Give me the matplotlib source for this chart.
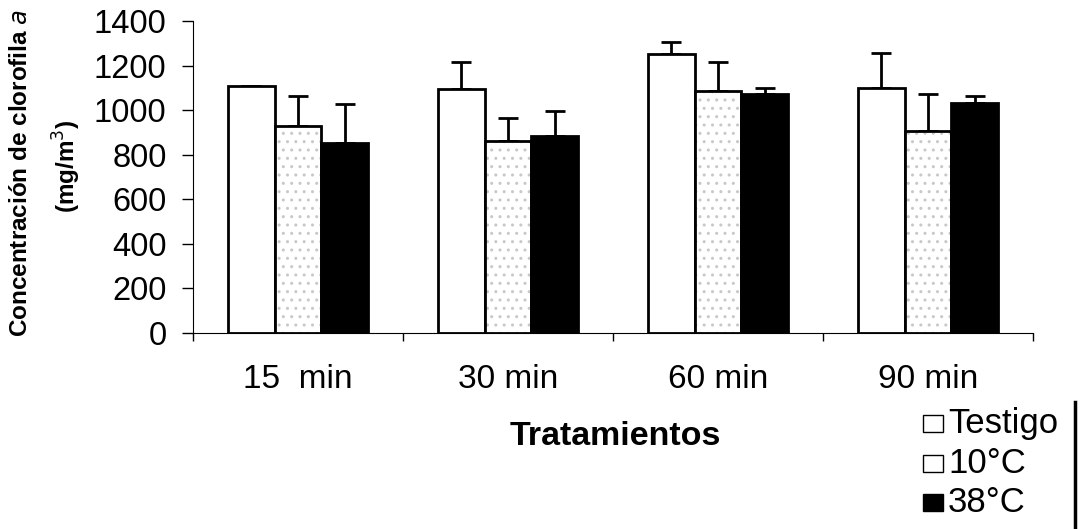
import numpy as np
import matplotlib
matplotlib.use("Agg")
import matplotlib.pyplot as plt
from matplotlib.lines import Line2D
from matplotlib.patches import Rectangle

plt.rcParams['font.family'] = ['Liberation Sans', 'DejaVu Sans']

tiempos = ["15  min", "30 min", "60 min", "90 min"]
series = ["Testigo", "10°C", "38°C"]
series_color = ["white", "white", "black"]
testigo = [1110, 1093, 1250, 1101]
testigo_err = [0, 121, 54, 157]
frio = [930, 863, 1087, 908]
frio_err = [135, 100, 127, 163]
calor = [854, 882, 1074, 1031]
calor_err = [172, 113, 27, 34]

W, H = 1082, 529
fig = plt.figure(figsize=(W / 100, H / 100), dpi=100)
ax = fig.add_axes([193 / W, 1 - 333 / H, 840 / W, 312 / H])

x = np.arange(len(tiempos))
w = 0.222
ekw = dict(elinewidth=2, capthick=2, ecolor="black", capsize=7, fmt="none", zorder=1)

# testigo (white)
ax.bar(x - w, testigo, w, color="white", edgecolor="black", linewidth=2, zorder=2)
ax.errorbar(x - w, testigo, yerr=[np.zeros(4), testigo_err], **ekw)

# 10 C (stippled)
ax.bar(x, frio, w, color="white", edgecolor="#c8c8c8", hatch="..", linewidth=0, zorder=2)
ax.bar(x, frio, w, color="none", edgecolor="black", linewidth=2, zorder=3)
ax.errorbar(x, frio, yerr=[np.zeros(4), frio_err], **ekw)

# 38 C (black)
ax.bar(x + w, calor, w, color="black", edgecolor="black", linewidth=2, zorder=2)
ax.errorbar(x + w, calor, yerr=[np.zeros(4), calor_err], **ekw)

ax.set_xlim(-0.5, 3.5)
ax.set_ylim(0, 1400)
ax.set_yticks(np.arange(0, 1401, 200))
ax.set_xticks(x)
ax.set_xticklabels(tiempos)
ax.set_xticks(np.arange(-0.5, 3.6, 1), minor=True)
ax.tick_params(axis="x", which="major", length=0, pad=22, labelsize=24)
ax.tick_params(axis="x", which="minor", length=6, width=1)
ax.tick_params(axis="y", length=8, width=1, pad=11, labelsize=23.5)
for s in ["top", "right"]:
    ax.spines[s].set_visible(False)

fig.text(21 / W, 1 - 173 / H, "Concentración de clorofila $\\it{a}$", rotation=90, ha="center",
         va="center", fontsize=17.5, fontweight="bold")
fig.text(67 / W, 1 - 166 / H, "(mg/m$^3$)", rotation=90, ha="center", va="center",
         fontsize=17.5, fontweight="bold")

fig.text(615 / W, 1 - 445 / H, "Tratamientos", ha="center", va="baseline", fontsize=24.5,
         fontweight="bold")

# legend
base = [433, 473, 512]
for i in range(len(series)):
    fig.add_artist(Rectangle((923 / W, 1 - (base[i] - 1) / H), 20 / W, 17 / H,
                             facecolor=series_color[i], edgecolor="black", linewidth=1,
                             transform=fig.transFigure))
    fig.text(948 / W, 1 - base[i] / H, series[i], ha="left", va="baseline", fontsize=25)
fig.add_artist(Line2D([1075 / W, 1075 / W], [0, 1 - 402 / H], color="black", linewidth=2.5))

fig.savefig("out.png", dpi=100)
